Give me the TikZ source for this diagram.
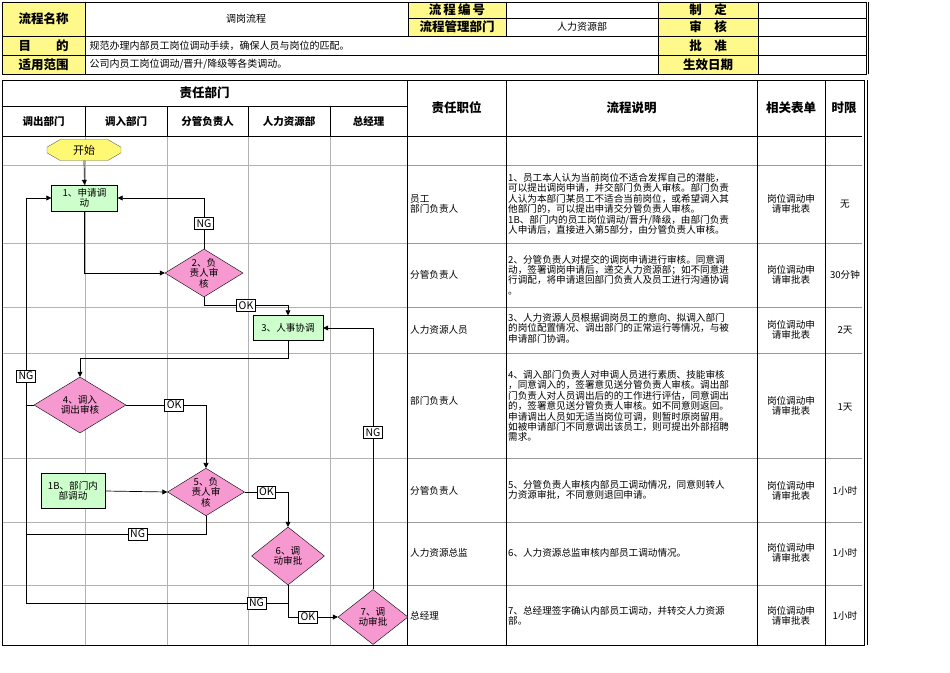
\documentclass[tikz,border=0pt]{standalone}
\usepackage{fontspec}
\setmainfont{Noto Sans CJK SC}
\usetikzlibrary{shapes.geometric,shapes.misc,arrows.meta}
\begin{document}
\begin{tikzpicture}[x=1pt,y=-1pt,
  hd/.style={font=\fontsize{12.5}{13}\selectfont\bfseries},
  sm/.style={font=\fontsize{10}{11}\selectfont},
  desc/.style={font=\fontsize{9.6}{10.4}\selectfont,align=left,anchor=west,inner sep=0},
  cell/.style={font=\fontsize{9.6}{10.6}\selectfont,align=center},
  ylw/.style={fill=yellow!45},
  gbox/.style={draw,fill=green!20,font=\fontsize{9.6}{10.4}\selectfont,align=center,inner sep=1pt},
  dia/.style={draw,diamond,fill=magenta!40,font=\fontsize{9.6}{10.4}\selectfont,align=center,inner sep=0,aspect=1.6},
  lab/.style={draw,fill=white,font=\fontsize{10.5}{11}\selectfont,inner sep=2pt},
  con/.style={line width=0.7pt},
  arr/.style={con,-{Triangle[length=5pt,width=5pt]}}]
\useasboundingbox (0,0) rectangle (950,672);
% ---------- header table
\fill[ylw] (2,2) rectangle (85,36);
\fill[ylw] (408,2) rectangle (506,36);
\fill[ylw] (658,2) rectangle (758,74);
\fill[ylw] (2,36) rectangle (85,74);
\draw[line width=0.8pt] (2,2) rectangle (866,74);
\draw[line width=0.5pt] (868,2) -- (868,74);
\draw (85,2)--(85,74) (408,2)--(408,36) (506,2)--(506,36) (658,2)--(658,74) (758,2)--(758,74);
\draw (408,18)--(866,18) (2,36)--(866,36) (2,55)--(866,55);
\node[hd] (a1) at (43.5,19) {流程名称};
\node[sm] (a2) at (246,19) {调岗流程};
\node[hd] (a3) at (457,10) {流\,程\,编\,号};
\node[hd] (a4) at (457,27) {流程管理部门};
\node[sm] (a5) at (582,27) {人力资源部};
\node[hd] (a6) at (708,10) {制\quad 定};
\node[hd] (a7) at (708,27) {审\quad 核};
\node[hd] (a8) at (708,45.5) {批\quad 准};
\node[hd] (a9) at (708,64.5) {生效日期};
\node[hd] (a10) at (43.5,45.5) {目\qquad 的};
\node[hd] (a11) at (43.5,64.5) {适用范围};
\node[sm,anchor=west] (a12) at (86,45.5) {规范办理内部员工岗位调动手续，确保人员与岗位的匹配。};
\node[sm,anchor=west] (a13) at (86,64.5) {公司内员工岗位调动/晋升/降级等各类调动。};
% ---------- main table
\draw[gray!60,line width=0.4pt] (85,136)--(85,645) (167,136)--(167,645) (248,136)--(248,645) (330,136)--(330,645);
\foreach \yy in {165,243,307,353,458,522,585} \draw[gray!60,line width=0.4pt] (2,\yy)--(407,\yy);
\foreach \yy in {165,243,307,353,458,522,585} \draw[gray!80,line width=0.4pt] (407,\yy)--(862,\yy);
\draw[line width=0.8pt] (2,80) rectangle (864,645);
\draw[line width=0.5pt] (867,80)--(867,645);
\draw (2,106)--(407,106) (2,136)--(862,136);
\draw (85,106)--(85,136) (167,106)--(167,136) (248,106)--(248,136) (330,106)--(330,136);
\draw (407,80)--(407,645) (506,80)--(506,645) (757,80)--(757,645) (825,80)--(825,645);
\node[hd] (h1) at (204.5,93) {责任部门};
\node[font=\fontsize{10.5}{11}\selectfont\bfseries] at (43.5,121) {调出部门};
\node[font=\fontsize{10.5}{11}\selectfont\bfseries] at (126,121) {调入部门};
\node[font=\fontsize{10.5}{11}\selectfont\bfseries] at (207.5,121) {分管负责人};
\node[font=\fontsize{10.5}{11}\selectfont\bfseries] at (289,121) {人力资源部};
\node[font=\fontsize{10.5}{11}\selectfont\bfseries] at (368.5,121) {总经理};
\node[hd] (h2) at (456.5,108) {责任职位};
\node[hd] (h3) at (631.5,108) {流程说明};
\node[hd] (h4) at (791,108) {相关表单};
\node[hd] (h5) at (844,108) {时限};
% rows text
\node[desc] at (410,204) {员工\\部门负责人};
\node[desc] at (410,275) {分管负责人};
\node[desc] at (410,330) {人力资源人员};
\node[desc] at (410,401) {部门负责人};
\node[desc] at (410,491) {分管负责人};
\node[desc] at (410,553) {人力资源总监};
\node[desc] at (410,616) {总经理};
\node[desc] at (508,204) {1、员工本人认为当前岗位不适合发挥自己的潜能，\\可以提出调岗申请，并交部门负责人审核。部门负责\\人认为本部门某员工不适合当前岗位，或希望调入其\\他部门的，可以提出申请交分管负责人审核。\\1B、部门内的员工岗位调动/晋升/降级，由部门负责\\人申请后，直接进入第5部分，由分管负责人审核。};
\node[desc] at (508,275) {2、分管负责人对提交的调岗申请进行审核。同意调\\动，签署调岗申请后，递交人力资源部；如不同意进\\行调配，将申请退回部门负责人及员工进行沟通协调\\。};
\node[desc] at (508,328) {3、人力资源人员根据调岗员工的意向、拟调入部门\\的岗位配置情况、调出部门的正常运行等情况，与被\\申请部门协调。};
\node[desc] at (508,406) {4、调入部门负责人对申调人员进行素质、技能审核\\，同意调入的，签署意见送分管负责人审核。调出部\\门负责人对人员调出后的的工作进行评估，同意调出\\的，签署意见送分管负责人审核。如不同意则返回。\\申请调出人员如无适当岗位可调，则暂时原岗留用。\\如被申请部门不同意调出该员工，则可提出外部招聘\\需求。};
\node[desc] at (508,490) {5、分管负责人审核内部员工调动情况，同意则转人\\力资源审批，不同意则退回申请。};
\node[desc] at (508,553) {6、人力资源总监审核内部员工调动情况。};
\node[desc] at (508,616) {7、总经理签字确认内部员工调动，并转交人力资源\\部。};
\foreach \yy in {204,275,330,406,491,553,616} \node[cell] at (791,\yy) {岗位调动申\\请审批表};
\node[cell] at (845,204) {无};
\node[cell] at (845,275) {30分钟};
\node[cell] at (845,330) {2天};
\node[cell] at (845,407) {1天};
\node[cell] at (845,491) {1小时};
\node[cell] at (845,553) {1小时};
\node[cell] at (845,616) {1小时};
% ---------- flow nodes
\node[draw,fill=yellow!55,draw=black!60,chamfered rectangle,chamfered rectangle xsep=7pt,chamfered rectangle angle=60,minimum width=74pt,minimum height=21pt,inner sep=0,font=\fontsize{11}{12}\selectfont] (s) at (84,150) {开始};
\node[gbox,minimum width=66pt,minimum height=26pt] (n1) at (84.5,198) {1、申请调\\动};
\node[dia,minimum width=78pt,minimum height=48pt] (n2) at (204,273) {2、负\\责人审\\核};
\node[gbox,minimum width=70pt,minimum height=25pt] (n3) at (288,328) {3、人事协调};
\node[dia,minimum width=92pt,minimum height=56pt] (n4) at (80,405) {4、调入\\调出审核};
\node[gbox,minimum width=64pt,minimum height=35pt] (n1b) at (73,491) {1B、部门内\\部调动};
\node[dia,minimum width=77pt,minimum height=46pt] (n5) at (206,492) {5、负\\责人审\\核};
\node[dia,minimum width=73pt,minimum height=58pt] (n6) at (288,556) {6、调\\动审批};
\node[dia,minimum width=70pt,minimum height=55pt] (n7) at (373,617) {7、调\\动审批};
\coordinate (L) at (26,198);
% ---------- connectors
\draw[arr] (s.south) -- (n1.north);
\draw[arr] (n1.south) |- (n2.west);
\draw[arr] (n2.north) |- (n1.east) node[lab,pos=0.25] (g1) {NG};
\draw[arr] (n2.south) -- ++(0,8) -| (n3.north) node[lab,pos=0.25] (k1) {OK};
\draw[arr] (n3.south) -- ++(0,18) -| (n4.north);
\draw[arr] (n4.west) -| (L) -- (n1.west);
\node[lab] (g2) at (26,376) {NG};
\draw[con] (26,405) -- (26,603);
\draw[arr] (n4.east) -| (n5.north) node[lab,pos=0.3] (k2) {OK};
\draw[arr] (n1b.east) -- (n5.west);
\draw[arr] (n5.east) -| (n6.north) node[lab,pos=0.25] (k3) {OK};
\draw[con] (n5.south) |- (26,534) node[lab,pos=0.69] (g3) {NG};
\draw[con] (n6.south) |- (26,603) node[lab,pos=0.56] (g4) {NG};
\draw[arr] (n6.south) |- (n7.west) node[lab,pos=0.7] (k4) {OK};
\draw[arr] (n7.north) |- (n3.east) node[lab,pos=0.3] (g5) {NG};
\end{tikzpicture}
\end{document}
